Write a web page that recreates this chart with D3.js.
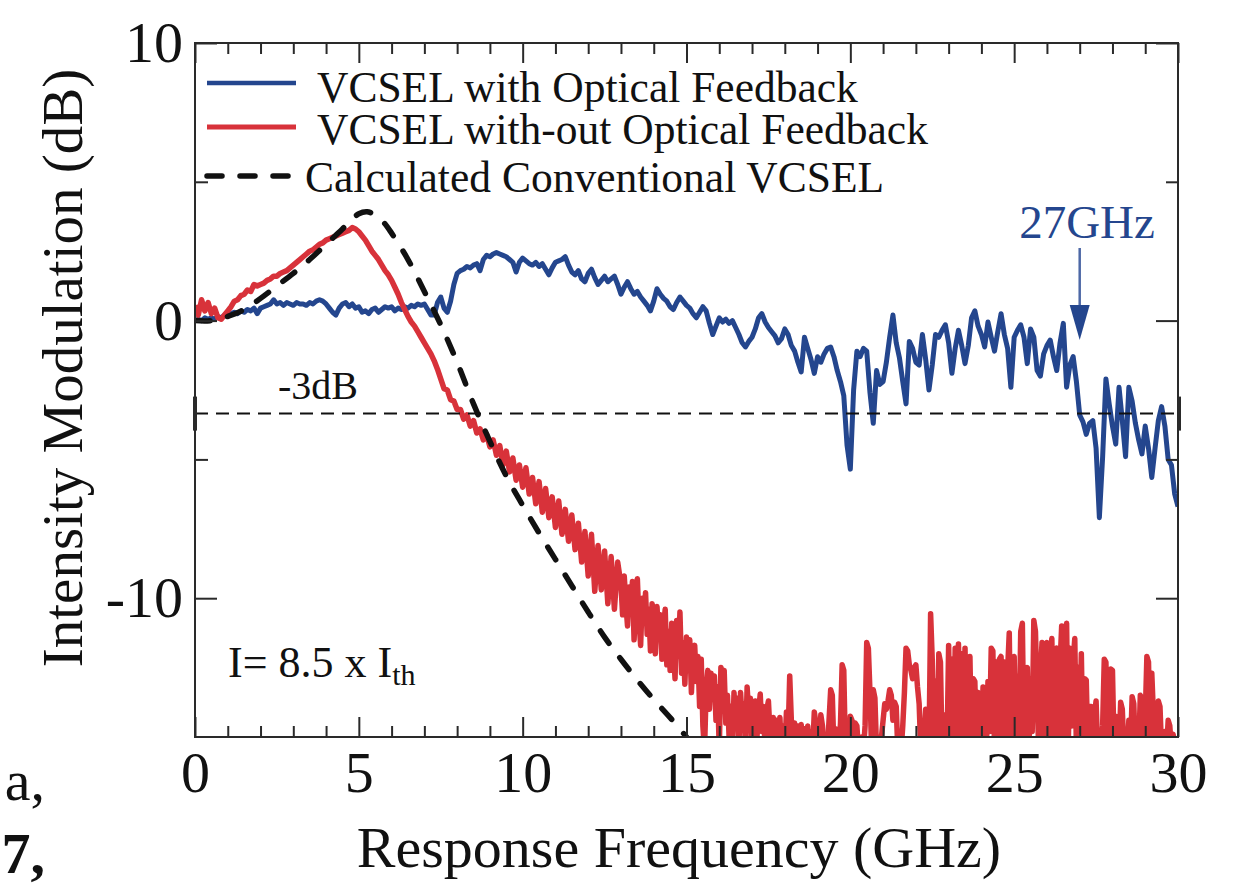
<!DOCTYPE html>
<html><head><meta charset="utf-8">
<script src="https://cdn.jsdelivr.net/npm/d3@7"></script>
<style>
html,body{margin:0;padding:0;background:#fff;}
svg{display:block;}
text{font-family:"Liberation Serif","Times New Roman",serif;fill:#111;}
</style>
</head><body>
<svg id="chart" width="1256" height="887"></svg>
<script>
// ---------------- DATA ----------------
// VCSEL with Optical Feedback (dB), 0 .. 30 GHz, every 0.1 GHz
const blueStart = 0, blueStep = 0.1;
const blueValues = [
 0.0,0.05,0.0,0.1,0.05,0.1,0.05,0.15,0.1,0.2,
 0.15,0.25,0.3,0.25,0.35,0.3,0.4,0.35,0.45,0.25,
 0.45,0.5,0.55,0.6,0.75,0.6,0.65,0.55,0.65,0.6,
 0.55,0.65,0.6,0.6,0.55,0.65,0.6,0.7,0.75,0.7,
 0.6,0.45,0.3,0.2,0.45,0.6,0.65,0.5,0.6,0.45,
 0.5,0.3,0.35,0.25,0.4,0.45,0.3,0.4,0.5,0.45,
 0.5,0.35,0.45,0.4,0.5,0.45,0.55,0.5,0.6,0.55,
 0.6,0.4,0.2,0.2,0.65,0.85,0.45,0.3,0.7,1.3,
 1.7,1.8,1.85,1.95,1.9,2.0,2.05,1.8,2.2,2.35,
 2.3,2.4,2.45,2.4,2.35,2.3,2.2,2.1,1.75,2.1,
 2.25,2.15,2.05,2.0,2.1,1.95,2.05,1.85,1.65,1.9,
 2.1,2.15,2.2,2.3,2.0,1.75,1.65,1.8,1.5,1.4,
 1.7,1.85,1.55,1.3,1.45,1.6,1.4,1.5,1.6,1.3,
 0.95,1.2,1.4,1.15,0.95,1.05,0.85,0.7,0.55,0.35,
 0.7,1.15,0.95,0.8,0.7,0.5,0.4,0.65,0.85,0.7,
 0.55,0.45,0.25,0.1,0.3,0.5,0.35,-0.1,-0.5,-0.2,
 0.1,-0.05,0.05,-0.1,0.0,-0.25,-0.5,-0.8,-0.95,-0.75,
 -0.6,-0.3,0.1,0.25,-0.05,-0.25,-0.4,-0.55,-0.8,-0.65,
 -0.3,-0.5,-0.9,-1.1,-1.5,-1.85,-0.6,-1.0,-1.4,-1.9,
 -1.3,-1.5,-1.2,-1.0,-0.95,-1.3,-1.8,-2.2,-2.7,-4.5,
 -5.35,-2.5,-1.1,-1.3,-1.0,-1.1,-2.6,-3.7,-1.8,-2.3,
 -2.2,-1.5,-0.6,0.2,-0.8,-1.35,-2.2,-3.0,-0.75,-1.0,
 -1.5,-1.6,-0.5,-1.4,-2.5,-1.6,-0.5,-0.6,-0.35,-0.15,
 -0.8,-1.9,-1.0,-0.35,-0.9,-1.55,-0.9,0.1,0.35,-0.2,
 -0.5,-0.95,-0.05,-0.6,-1.1,-0.4,0.25,-0.5,-1.0,-2.4,
 -0.6,-0.35,-0.15,-0.6,-1.55,-0.3,-0.6,-1.8,-2.0,-1.2,
 -0.9,-0.7,-1.3,-1.8,-0.8,-0.1,-2.4,-1.6,-1.3,-2.2,
 -3.4,-3.65,-4.1,-3.7,-3.6,-4.6,-7.1,-4.9,-2.1,-3.0,
 -3.8,-4.45,-2.4,-3.6,-4.9,-2.4,-2.9,-3.7,-4.3,-4.8,
 -3.8,-4.6,-5.65,-4.6,-3.6,-3.1,-3.8,-5.0,-5.2,-6.25,
 -6.7
];

// VCSEL with-out Optical Feedback (dB)
// part 1: 0 .. 12.9 GHz every 0.1 GHz
const redCoarseStart = 0, redCoarseStep = 0.1;
const redCoarseValues = [
 0.55,0.2,0.75,0.35,0.65,0.25,0.45,0.1,0.05,0.2,
 0.35,0.5,0.7,0.75,0.9,0.95,1.1,1.05,1.3,1.25,
 1.3,1.35,1.45,1.5,1.6,1.6,1.7,1.75,1.8,1.9,
 2.0,2.1,2.2,2.3,2.4,2.5,2.55,2.65,2.75,2.8,
 2.9,2.95,3.0,3.05,3.1,3.15,3.2,3.25,3.35,3.3,
 3.2,3.05,2.9,2.7,2.5,2.35,2.2,2.0,1.8,1.65,
 1.45,1.2,0.95,0.65,0.4,0.15,-0.05,-0.2,-0.4,-0.6,
 -0.8,-1.0,-1.2,-1.45,-1.75,-2.1,-2.45,-2.5,-2.85,-2.9,
 -3.2,-3.2,-3.55,-3.4,-3.8,-3.6,-4.05,-3.9,-4.3,-4.1,
 -4.55,-4.3,-4.85,-4.5,-5.2,-4.7,-5.45,-4.95,-5.75,-5.2,
 -6.0,-5.3,-6.25,-5.65,-6.6,-5.8,-6.9,-6.05,-7.1,-6.35,
 -7.45,-6.5,-7.7,-6.8,-7.95,-7.0,-8.25,-7.3,-8.7,-7.6,
 -9.2,-7.7,-9.75,-8.1,-9.7,-8.3,-10.2,-8.5,-10.4,-8.7
];
// part 2: 13.0 .. 30.0 GHz every 0.05 GHz
const redFineStart = 13.0, redFineStep = 0.05;
const redFineValues = [
 -9.5,-10.6,-9.2,-10.2,-11.0,-9.6,-10.4,-9.4,-11.5,-10.1,
 -9.3,-10.8,-11.7,-10.0,-10.9,-9.8,-11.3,-10.4,-11.9,-10.2,
 -11.0,-12.0,-10.3,-11.4,-10.6,-12.2,-11.0,-10.4,-12.4,-11.2,
 -12.6,-10.9,-11.8,-12.9,-10.8,-12.1,-10.5,-12.7,-11.6,-13.1,
 -11.4,-12.6,-11.5,-13.4,-12.0,-11.7,-13.0,-12.1,-13.9,-12.2,
 -14.6,-15.5,-13.3,-12.6,-14.0,-12.7,-13.6,-12.8,-14.4,-13.2,
 -15.5,-12.5,-13.8,-12.6,-14.5,-13.5,-15.0,-13.9,-15.5,-13.4,
 -14.6,-13.6,-15.3,-13.4,-14.4,-13.8,-15.5,-13.2,-14.2,-13.6,
 -15.5,-14.0,-13.7,-15.0,-14.1,-13.45,-14.8,-13.9,-15.5,-14.0,
 -13.7,-14.9,-15.5,-14.3,-15.2,-14.4,-15.5,-14.3,-15.5,-14.6,
 -15.5,-14.1,-15.0,-12.8,-14.4,-15.5,-14.5,-15.5,-14.6,-15.5,
 -14.55,-15.5,-14.7,-15.5,-14.6,-15.5,-14.8,-15.5,-14.1,-14.5,
 -15.5,-15.5,-14.2,-14.6,-15.5,-15.0,-15.5,-14.4,-13.3,-13.5,
 -15.5,-14.7,-15.5,-15.5,-14.5,-12.4,-12.6,-15.5,-15.0,-15.5,
 -14.25,-14.4,-15.5,-14.5,-14.6,-15.5,-15.5,-15.0,-15.5,-14.6,
 -11.6,-11.8,-13.4,-15.5,-13.3,-13.6,-15.5,-15.0,-15.5,-15.0,
 -14.4,-13.8,-14.0,-13.7,-13.3,-13.5,-14.4,-13.75,-13.9,-15.5,
 -15.0,-15.5,-14.6,-13.4,-11.8,-11.9,-12.4,-12.6,-12.9,-12.5,
 -12.4,-13.2,-13.8,-15.5,-14.6,-15.0,-14.0,-14.2,-15.5,-10.56,
 -12.2,-15.5,-13.0,-15.5,-12.0,-12.3,-15.5,-14.5,-14.2,-15.5,
 -11.7,-15.5,-12.2,-15.3,-11.8,-15.5,-11.65,-14.9,-12.0,-15.5,
 -11.8,-15.0,-12.6,-12.1,-15.5,-12.9,-13.0,-15.5,-13.4,-13.6,
 -15.5,-13.2,-13.3,-15.5,-13.0,-14.8,-11.8,-11.9,-15.5,-12.3,
 -14.9,-12.2,-12.1,-15.5,-12.3,-15.2,-12.6,-11.25,-15.5,-12.4,
 -12.1,-15.5,-12.8,-15.0,-11.2,-10.9,-15.5,-12.6,-12.5,-15.5,
 -12.9,-14.8,-10.8,-11.2,-13.6,-15.5,-12.8,-11.6,-15.5,-11.8,
 -11.6,-15.5,-12.0,-11.45,-15.2,-11.9,-11.8,-15.5,-12.4,-11.0,
 -15.0,-11.6,-10.9,-15.5,-11.8,-14.6,-12.3,-11.45,-15.5,-12.5,
 -14.8,-12.0,-15.5,-12.9,-12.95,-15.5,-13.9,-13.9,-15.5,-14.2,
 -13.7,-15.5,-15.0,-15.5,-14.6,-12.2,-12.3,-15.5,-14.8,-12.55,
 -12.6,-15.5,-14.25,-14.4,-15.5,-13.75,-14.0,-15.5,-15.0,-15.5,
 -14.4,-15.5,-13.55,-13.8,-15.5,-14.6,-15.5,-13.5,-13.6,-15.5,
 -14.3,-12.1,-12.3,-15.5,-12.7,-14.2,-15.5,-14.6,-13.7,-13.9,
 -15.5,-15.0,-14.8,-15.5,-14.4,-14.6,-15.5,-14.9,-15.2,-15.5,
 -15.5
];

// Calculated Conventional VCSEL
const calcFreq = [0,0.5,1,1.5,2,2.5,3,3.5,4,4.5,4.75,5,5.25,5.5,5.75,6,6.5,7,7.5,8,8.5,9,9.5,10,10.5,11,11.5,12,12.5,13,13.5,14,14.5,15];
const calcValues = [0,0,0.15,0.4,0.8,1.25,1.7,2.2,2.75,3.3,3.6,3.85,3.92,3.8,3.55,3.15,2.2,1.05,-0.15,-1.5,-3.0,-4.35,-5.6,-6.65,-7.65,-8.6,-9.55,-10.5,-11.4,-12.2,-12.95,-13.65,-14.3,-15.0];

const xMajorTicks = [0,5,10,15,20,25,30];
const xMinorTicks = [1,2,3,4,6,7,8,9,11,12,13,14,16,17,18,19,21,22,23,24,26,27,28,29];
const yMajorTicks = [10,0,-10];
const yMinorTicks = [5,-5];
const thresholdDb = -3.35;   // level of the "-3dB" dashed line
const markerFreq = 27;       // 27GHz arrow
const legendLabels = ["VCSEL with Optical Feedback","VCSEL with-out Optical Feedback","Calculated Conventional VCSEL"];

// ---------------- DRAW ----------------
const svg = d3.select("#chart");
svg.append("rect").attr("width",1256).attr("height",887).attr("fill","#fff");
const L=195,R=1178,T=43,B=737;
const x = d3.scaleLinear().domain([0,30]).range([L,R]);
const y = d3.scaleLinear().domain([-15,10]).range([B,T]);
const BLUE="#24468e", RED="#d8323a", AX="#2a2a2a";

svg.append("defs").append("clipPath").attr("id","plotclip")
  .append("rect").attr("x",L).attr("y",T).attr("width",R-L).attr("height",B-T);

const blueData = blueValues.map((v,i)=>({f:blueStart+i*blueStep, v}));
const redData = redCoarseValues.map((v,i)=>({f:redCoarseStart+i*redCoarseStep, v}))
  .concat(redFineValues.map((v,i)=>({f:redFineStart+i*redFineStep, v})));
const calcData = calcFreq.map((f,i)=>({f, v:calcValues[i]}));

const line = d3.line().x(d=>x(d.f)).y(d=>y(d.v));
const plot = svg.append("g").attr("clip-path","url(#plotclip)");

plot.append("path").datum(blueData).attr("d",line)
  .attr("fill","none").attr("stroke",BLUE).attr("stroke-width",5).attr("stroke-linejoin","round");
plot.append("path").datum(redData).attr("d",line)
  .attr("fill","none").attr("stroke",RED).attr("stroke-width",5.5).attr("stroke-linejoin","round");
plot.append("path").datum(calcData).attr("d",d3.line().x(d=>x(d.f)).y(d=>y(d.v)).curve(d3.curveCatmullRom))
  .attr("fill","none").attr("stroke","#111").attr("stroke-width",5.5)
  .attr("stroke-dasharray","15,18").attr("stroke-linecap","round");

// -3dB line
svg.append("line").attr("x1",L).attr("x2",R).attr("y1",y(thresholdDb)).attr("y2",y(thresholdDb))
  .attr("stroke","#111").attr("stroke-width",2).attr("stroke-dasharray","13,8");

// axes
function styleAxis(g){
  g.select(".domain").remove();
  g.selectAll(".tick line").attr("stroke",AX).attr("stroke-width",2);
  g.selectAll(".tick text").attr("fill","#111").style("font-size","58px")
   .style("font-family","'Liberation Serif','Times New Roman',serif");
}
const fmt = d => d<0 ? "-"+Math.abs(d) : String(d);
svg.append("g").attr("transform",`translate(0,${B})`)
  .call(d3.axisBottom(x).tickValues(xMajorTicks).tickSize(-20).tickPadding(14).tickFormat(fmt)).call(styleAxis);
svg.append("g").attr("transform",`translate(0,${B})`)
  .call(d3.axisBottom(x).tickValues(xMinorTicks).tickSize(-11).tickFormat("")).call(styleAxis);
svg.append("g").attr("transform",`translate(0,${T})`)
  .call(d3.axisTop(x).tickValues(xMajorTicks).tickSize(-20).tickFormat("")).call(styleAxis);
svg.append("g").attr("transform",`translate(0,${T})`)
  .call(d3.axisTop(x).tickValues(xMinorTicks).tickSize(-11).tickFormat("")).call(styleAxis);
svg.append("g").attr("transform",`translate(${L},0)`)
  .call(d3.axisLeft(y).tickValues(yMajorTicks).tickSize(-22).tickPadding(12).tickFormat(fmt)).call(styleAxis);
svg.append("g").attr("transform",`translate(${L},0)`)
  .call(d3.axisLeft(y).tickValues(yMinorTicks).tickSize(-13).tickFormat("")).call(styleAxis);
svg.append("g").attr("transform",`translate(${R},0)`)
  .call(d3.axisRight(y).tickValues(yMajorTicks).tickSize(-22).tickFormat("")).call(styleAxis);
svg.append("g").attr("transform",`translate(${R},0)`)
  .call(d3.axisRight(y).tickValues(yMinorTicks).tickSize(-12).tickFormat("")).call(styleAxis);

// frame
svg.append("rect").attr("x",L).attr("y",T).attr("width",R-L).attr("height",B-T)
  .attr("fill","none").attr("stroke",AX).attr("stroke-width",2);

// -3dB markers on the axes
[L,R+1].forEach(px=>{
  svg.append("line").attr("x1",px).attr("x2",px).attr("y1",y(thresholdDb)-17).attr("y2",y(thresholdDb)+17)
    .attr("stroke",AX).attr("stroke-width",4);
});

// axis titles
svg.append("text").attr("x",679).attr("y",867).attr("text-anchor","middle")
  .style("font-size","58px").text("Response Frequency (GHz)");
svg.append("text").attr("transform","translate(82,368) rotate(-90)").attr("text-anchor","middle")
  .style("font-size","57px").text("Intensity Modulation (dB)");

// legend
const lg = [
  {y:83, color:BLUE, dash:null, w:4.5, tx:317, ty:102},
  {y:127, color:RED, dash:null, w:5, tx:317, ty:144},
  {y:176, color:"#111", dash:"15,18", w:5.5, tx:305, ty:192}
];
lg.forEach((d,i)=>{
  const ln = svg.append("line").attr("x1",207).attr("x2",296).attr("y1",d.y).attr("y2",d.y)
    .attr("stroke",d.color).attr("stroke-width",d.w);
  if(d.dash) ln.attr("stroke-dasharray",d.dash).attr("stroke-linecap","round");
  svg.append("text").attr("x",d.tx).attr("y",d.ty).style("font-size","43.5px").text(legendLabels[i]);
});

// annotations
svg.append("text").attr("x",278).attr("y",399).style("font-size","40px").text("-3dB");
const ith = svg.append("text").attr("x",228).attr("y",677).style("font-size","44px");
ith.append("tspan").text("I= 8.5 x I");
ith.append("tspan").attr("dy",8).style("font-size","30px").text("th");

svg.append("text").attr("x",1087).attr("y",238).attr("text-anchor","middle")
  .style("font-size","47px").style("fill",BLUE).text(markerFreq+"GHz");
const ax = x(markerFreq);
svg.append("line").attr("x1",ax).attr("x2",ax).attr("y1",248).attr("y2",310)
  .attr("stroke","#4d68a6").attr("stroke-width",2.5);
svg.append("path").attr("d",`M${ax-10},305 L${ax+10},305 L${ax},340 Z`).attr("fill",BLUE);

// page fragments at the left edge
svg.append("text").attr("x",45).attr("y",800).attr("text-anchor","end").style("font-size","58px").text("a,");
svg.append("text").attr("x",45).attr("y",873).attr("text-anchor","end").style("font-size","58px")
  .style("font-weight","bold").text("7,");
</script>
</body></html>
